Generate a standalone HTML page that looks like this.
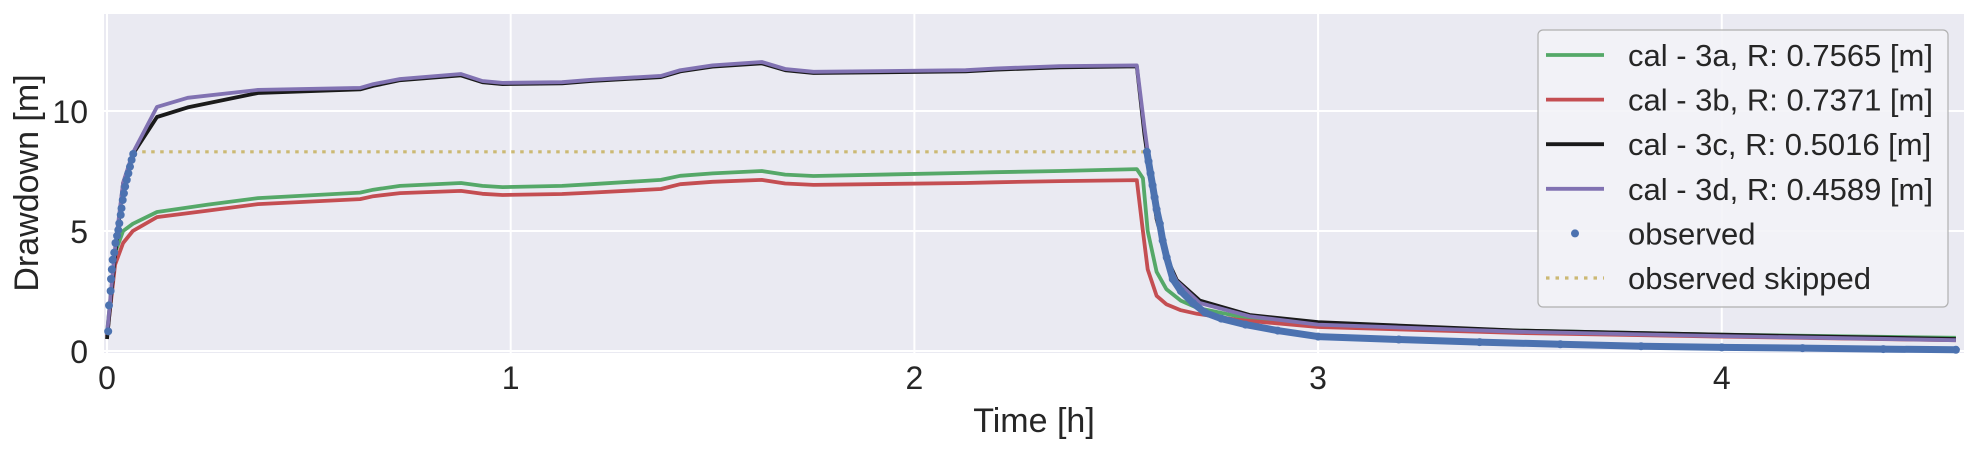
<!DOCTYPE html>
<html><head><meta charset="utf-8"><style>
html,body{margin:0;padding:0;background:#fff;}
svg{display:block;font-family:"Liberation Sans",sans-serif;}
</style></head><body>
<svg id="chart" width="1978" height="452" viewBox="0 0 1978 452">
<rect x="104" y="14" width="1860" height="339" fill="#eaeaf2"/>
<g id="grid"></g>
<g id="ticks"></g>
<g id="series"></g>
<text x="1034" y="432" font-size="34" text-anchor="middle" fill="#262626">Time [h]</text>
<text transform="translate(38,183) rotate(-90)" font-size="34" text-anchor="middle" fill="#262626">Drawdown [m]</text>
<g>
<rect x="1538" y="30" width="410" height="277" rx="5" fill="#f3f3f7" fill-opacity="0.9" stroke="#b0b0b0" stroke-width="1.2"/>
<g id="legend-items"></g>
</g>
</svg>
<script>
const xTicks=[0,1,2,3,4];
const yTicks=[0,5,10];
const tA=[0,0.02,0.04,0.064,0.124,0.25,0.374,0.627,0.66,0.726,0.877,0.93,0.98,1.127,1.2,1.372,1.42,1.5,1.622,1.68,1.75,2.127,2.2,2.36,2.551,2.566,2.578,2.6,2.624,2.66,2.7,2.8,3.0,3.5,4.0,4.58];
const s3a=[0.75,4.1,5.0,5.3,5.79,6.1,6.37,6.6,6.72,6.88,7.0,6.88,6.83,6.88,6.95,7.13,7.3,7.4,7.5,7.35,7.29,7.42,7.45,7.5,7.58,7.2,5.0,3.3,2.58,2.1,1.8,1.45,1.12,0.85,0.68,0.55];
const s3b=[0.6,3.6,4.5,5.0,5.58,5.85,6.12,6.33,6.45,6.58,6.67,6.55,6.5,6.54,6.6,6.75,6.95,7.05,7.13,6.98,6.92,7.0,7.03,7.08,7.12,5.0,3.4,2.3,1.95,1.7,1.55,1.3,1.0,0.75,0.6,0.45];
const tC=[0,0.02,0.04,0.064,0.124,0.2,0.374,0.627,0.66,0.726,0.877,0.93,0.98,1.127,1.2,1.372,1.42,1.5,1.622,1.68,1.75,2.127,2.2,2.36,2.551,2.57,2.6,2.63,2.65,2.707,2.83,3.0,3.5,4.0,4.58];
const s3c=[0.5,4.0,7.0,8.2,9.75,10.15,10.75,10.9,11.05,11.28,11.48,11.2,11.12,11.15,11.25,11.41,11.65,11.85,11.98,11.7,11.58,11.65,11.72,11.82,11.86,9.0,5.5,3.7,2.96,2.1,1.5,1.2,0.85,0.68,0.5];
const s3d=[0.7,4.3,7.0,8.25,10.17,10.55,10.88,10.96,11.12,11.33,11.54,11.25,11.17,11.2,11.3,11.46,11.7,11.9,12.04,11.75,11.63,11.7,11.77,11.87,11.9,9.3,5.6,3.6,2.9,2.0,1.45,1.1,0.8,0.62,0.45];
const tObs=[0.003,0.005,0.009,0.010,0.012,0.014,0.018,0.021,0.025,0.028,0.0305,0.034,0.036,0.039,0.042,0.045,0.049,0.053,0.057,0.061,0.065,2.576,2.58,2.585,2.59,2.595,2.60,2.608,2.615,2.625,2.64,2.66,2.69,2.72,2.76,2.82,2.9,3.0,3.2,3.4,3.6,3.8,4.0,4.2,4.4,4.58];
const sObs=[0.82,1.9,2.5,3.0,3.4,3.8,4.1,4.5,4.8,5.04,5.32,5.67,5.95,6.29,6.57,6.85,7.13,7.4,7.68,7.96,8.21,8.3,7.9,7.4,6.9,6.4,5.9,5.3,4.6,3.9,3.0,2.5,2.0,1.6,1.35,1.1,0.85,0.6,0.48,0.37,0.28,0.2,0.15,0.12,0.08,0.05];
const tSkip=[0.065,2.576];
const sSkip=[8.3,8.3];
const labels=["cal - 3a, R: 0.7565 [m]","cal - 3b, R: 0.7371 [m]","cal - 3c, R: 0.5016 [m]","cal - 3d, R: 0.4589 [m]","observed","observed skipped"];

const NS="http://www.w3.org/2000/svg";
const X0=104,X1=1964,Y0=14,Y1=353,xmin=-0.0074,xmax=4.6,ymin=-0.083,ymax=14.04;
function xs(v){return X0+(v-xmin)/(xmax-xmin)*(X1-X0);}
function ys(v){return Y1-(v-ymin)/(ymax-ymin)*(Y1-Y0);}
function mk(tag,attrs,parent){const e=document.createElementNS(NS,tag);for(const k in attrs)e.setAttribute(k,attrs[k]);parent.appendChild(e);return e;}
const grid=document.getElementById('grid'),ticks=document.getElementById('ticks'),ser=document.getElementById('series');
xTicks.forEach(v=>{
  const l=mk('line',{x1:xs(v),x2:xs(v),y1:Y0,y2:Y1,stroke:'#fff','stroke-width':2},grid);
  
  
  const t=mk('text',{x:xs(v),y:389,'font-size':32,'text-anchor':'middle',fill:'#262626'},ticks);
  t.textContent=v;
  
  
});
yTicks.forEach(v=>{
  const l=mk('line',{x1:X0,x2:X1,y1:ys(v),y2:ys(v),stroke:'#fff','stroke-width':2},grid);
  
  
  const t=mk('text',{x:88,y:ys(v)+12,'font-size':32,'text-anchor':'end',fill:'#262626'},ticks);
  t.textContent=v;
  
  
});
function pts(t,s){return t.map((v,i)=>xs(v).toFixed(1)+','+ys(s[i]).toFixed(1)).join(' ');}
const sk=mk('polyline',{points:pts(tSkip,sSkip),fill:'none',stroke:'#ccb974','stroke-width':3.2,'stroke-dasharray':'3.5,5.5'},ser);


const lines=[[tA,s3a,'#55a868','cal-3a-line'],[tA,s3b,'#c44e52','cal-3b-line'],[tC,s3c,'#1a1a1a','cal-3c-line'],[tC,s3d,'#8172b2','cal-3d-line']];
lines.forEach(([t,s,c,n])=>{
  const p=mk('polyline',{points:pts(t,s),fill:'none',stroke:c,'stroke-width':3.8,'stroke-linejoin':'round'},ser);
  
  
});
const band=mk('polyline',{points:pts(tObs.slice(21),sObs.slice(21)),fill:'none',stroke:'#4c72b0','stroke-width':7,'stroke-linecap':'round','stroke-linejoin':'round'},ser);


tObs.forEach((t,i)=>{
  const c=mk('circle',{cx:xs(t),cy:ys(sObs[i]),r:4,fill:'#4c72b0'},ser);
  
  
});
const li=document.getElementById('legend-items');
const lc=['#55a868','#c44e52','#1a1a1a','#8172b2'];
labels.forEach((lab,i)=>{
  const y=55+i*44.6;
  if(i<4){const h=mk('line',{x1:1546,x2:1604,y1:y,y2:y,stroke:lc[i],'stroke-width':3.8},li);
    
    }
  else if(i===4){const h=mk('circle',{cx:1575,cy:y,r:4,fill:'#4c72b0'},li);
    
    }
  else {const h=mk('line',{x1:1546,x2:1604,y1:y,y2:y,stroke:'#ccb974','stroke-width':3.2,'stroke-dasharray':'3.5,6'},li);
    
    }
  const t=mk('text',{x:1628,y:y+11,'font-size':31,fill:'#262626'},li);
  t.textContent=lab;
  
  
});
</script>
</body></html>
